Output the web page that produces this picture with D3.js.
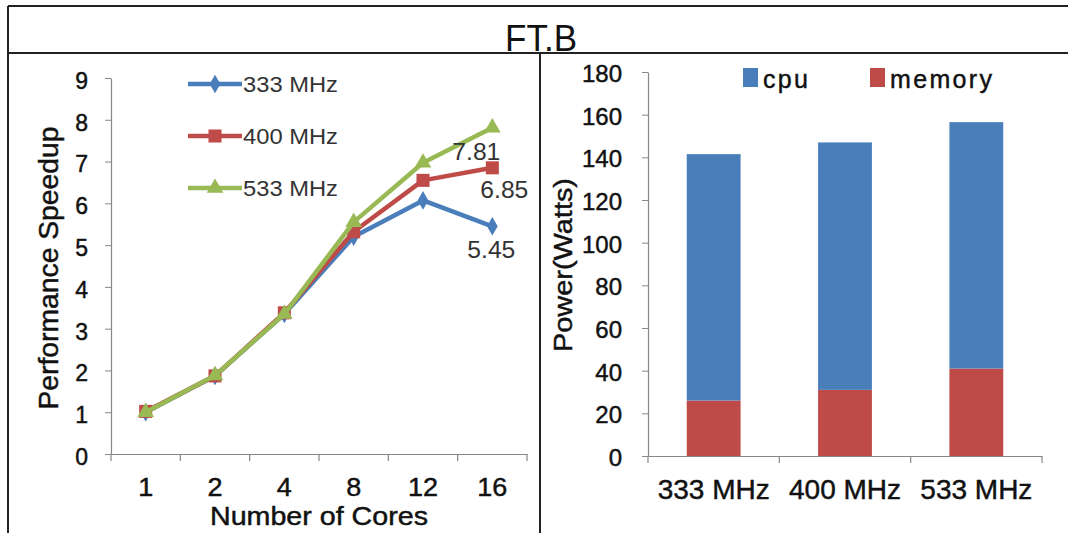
<!DOCTYPE html>
<html>
<head>
<meta charset="utf-8">
<script src="https://cdn.jsdelivr.net/npm/d3@7"></script>
<style>
  html, body { margin: 0; padding: 0; background: #fff; }
  svg { display: block; }
  text { font-family: "Liberation Sans", Arial, sans-serif; }
</style>
</head>
<body>
<svg id="chart" width="1068" height="533"></svg>
<script>
// ---- data ----
const coreLabels = ["1", "2", "4", "8", "12", "16"];
const speedup333 = [1.0, 1.87, 3.35, 5.2, 6.07, 5.45];
const speedup400 = [1.02, 1.87, 3.38, 5.32, 6.55, 6.85];
const speedup533 = [1.0, 1.88, 3.35, 5.55, 6.97, 7.81];
const seriesNames = ["333 MHz", "400 MHz", "533 MHz"];
const speedupTicks = [0, 1, 2, 3, 4, 5, 6, 7, 8, 9];

const freqLabels = ["333 MHz", "400 MHz", "533 MHz"];
const memoryPower = [26, 31, 41];
const cpuPower = [115.5, 116, 115.5];
const powerTicks = [0, 20, 40, 60, 80, 100, 120, 140, 160, 180];

const colors = { blue: "#4a7ebb", red: "#be4b48", green: "#98b954" };
const ink = "#111";

const svg = d3.select("#chart");

// slightly heavier text, like the original office export
function heavy(sel, color) {
  return sel.attr("fill", color).attr("stroke", color).attr("stroke-width", 0.45);
}

// ---- frame ----
const frame = svg.append("g").attr("stroke", "#222").attr("stroke-width", 2).attr("fill", "none");
frame.append("line").attr("x1", 8).attr("x2", 1068).attr("y1", 6).attr("y2", 6);
frame.append("line").attr("x1", 8).attr("x2", 1068).attr("y1", 53).attr("y2", 53);
frame.append("line").attr("x1", 8).attr("x2", 8).attr("y1", 6).attr("y2", 533);
frame.append("line").attr("x1", 540).attr("x2", 540).attr("y1", 53).attr("y2", 533);

svg.append("text")
  .attr("x", 541).attr("y", 51)
  .attr("text-anchor", "middle")
  .attr("font-size", 37)
  .attr("fill", ink)
  .attr("textLength", 72).attr("lengthAdjust", "spacingAndGlyphs")
  .text("FT.B");

// ---- left panel: speedup lines ----
const xL = d3.scaleBand().domain(coreLabels).range([111, 527]);
const yL = d3.scaleLinear().domain([0, 9]).range([454, 78]);

const gL = svg.append("g");

const yAxisL = gL.append("g").attr("transform", "translate(111,0)")
  .call(d3.axisLeft(yL).tickValues(speedupTicks).tickSize(6).tickSizeOuter(0));
yAxisL.select(".domain").attr("stroke", "#888").attr("stroke-width", 1.2);
yAxisL.selectAll(".tick line").attr("stroke", "#888");
heavy(yAxisL.selectAll(".tick text"), ink)
  .attr("x", -23).attr("dy", "0.45em").attr("font-size", 23)
  .attr("font-family", "Liberation Sans, Arial, sans-serif");

const xAxisL = gL.append("g").attr("transform", "translate(0,454)")
  .call(d3.axisBottom(xL).tickSize(0));
xAxisL.select(".domain").attr("stroke", "#888").attr("stroke-width", 1.2);
heavy(xAxisL.selectAll(".tick text"), ink)
  .attr("y", 42).attr("dy", 0).attr("font-size", 25)
  .attr("textLength", function() { return this.getComputedTextLength() * 1.08; })
  .attr("lengthAdjust", "spacingAndGlyphs")
  .attr("font-family", "Liberation Sans, Arial, sans-serif");
const boundsL = d3.range(coreLabels.length + 1).map(i => 111 + i * xL.step());
gL.append("g").selectAll("line").data(boundsL).join("line")
  .attr("x1", d => d).attr("x2", d => d)
  .attr("y1", 454).attr("y2", 461)
  .attr("stroke", "#888").attr("stroke-width", 1.2);

heavy(gL.append("text"), ink)
  .attr("transform", "translate(58,268) rotate(-90)")
  .attr("text-anchor", "middle")
  .attr("font-size", 27)
  .attr("textLength", 283).attr("lengthAdjust", "spacingAndGlyphs")
  .text("Performance Speedup");

heavy(gL.append("text"), ink)
  .attr("x", 319).attr("y", 525)
  .attr("text-anchor", "middle")
  .attr("font-size", 25)
  .attr("textLength", 218).attr("lengthAdjust", "spacingAndGlyphs")
  .text("Number of Cores");

const cx = (d, i) => xL(coreLabels[i]) + xL.bandwidth() / 2;
const line = d3.line().x((d, i) => cx(d, i)).y(d => yL(d));

const series = [
  { name: seriesNames[0], values: speedup333, color: colors.blue, shape: d3.symbolDiamond, size: 100 },
  { name: seriesNames[1], values: speedup400, color: colors.red, shape: d3.symbolSquare, size: 170 },
  { name: seriesNames[2], values: speedup533, color: colors.green, shape: d3.symbolTriangle, size: 120 }
];

series.forEach(s => {
  gL.append("path")
    .datum(s.values)
    .attr("d", line)
    .attr("fill", "none")
    .attr("stroke", s.color)
    .attr("stroke-width", 4.5)
    .attr("stroke-linejoin", "round");
  gL.append("g").selectAll("path").data(s.values).join("path")
    .attr("d", d3.symbol().type(s.shape).size(s.size))
    .attr("transform", (d, i) => `translate(${cx(d, i)},${yL(d)})`)
    .attr("fill", s.color);
});

// value labels at 16 cores
const last = coreLabels.length - 1;
const lblData = [
  { v: speedup533[last], dx: -16, dy: 32 },
  { v: speedup400[last], dx: 12, dy: 30 },
  { v: speedup333[last], dx: -1, dy: 32 }
];
gL.append("g").selectAll("text").data(lblData).join("text")
  .attr("x", d => cx(d, last) + d.dx)
  .attr("y", d => yL(d.v) + d.dy)
  .attr("text-anchor", "middle")
  .attr("font-size", 23).attr("fill", "#333")
  .attr("textLength", 48).attr("lengthAdjust", "spacingAndGlyphs")
  .text(d => d.v.toFixed(2));

// legend
const legL = gL.append("g");
series.forEach((s, i) => {
  const y = 84 + i * 52;
  legL.append("line").attr("x1", 188).attr("x2", 242).attr("y1", y).attr("y2", y)
    .attr("stroke", s.color).attr("stroke-width", 4.5);
  legL.append("path").attr("d", d3.symbol().type(s.shape).size(s.size))
    .attr("transform", `translate(215,${y})`).attr("fill", s.color);
  legL.append("text").attr("x", 243).attr("y", y + 8)
    .attr("font-size", 22).attr("fill", "#333")
    .attr("textLength", 95).attr("lengthAdjust", "spacingAndGlyphs")
    .text(s.name);
});

// ---- right panel: stacked power bars ----
const xR = d3.scaleBand().domain(freqLabels).range([648, 1042]).paddingInner(0.59).paddingOuter(0.295);
const yR = d3.scaleLinear().domain([0, 180]).range([456, 72]);

const gR = svg.append("g");

const yAxisR = gR.append("g").attr("transform", "translate(648,0)")
  .call(d3.axisLeft(yR).tickValues(powerTicks).tickSize(6).tickSizeOuter(0));
yAxisR.select(".domain").attr("stroke", "#888").attr("stroke-width", 1.2);
yAxisR.selectAll(".tick line").attr("stroke", "#888");
heavy(yAxisR.selectAll(".tick text"), ink)
  .attr("x", -26).attr("dy", "0.4em").attr("font-size", 24)
  .attr("font-family", "Liberation Sans, Arial, sans-serif");

const xAxisR = gR.append("g").attr("transform", "translate(0,456)")
  .call(d3.axisBottom(xR).tickSize(0));
xAxisR.select(".domain").attr("stroke", "#888").attr("stroke-width", 1.2);
heavy(xAxisR.selectAll(".tick text"), ink)
  .attr("y", 43).attr("dy", 0).attr("font-size", 28)
  .attr("font-family", "Liberation Sans, Arial, sans-serif");
const stepR = (1042 - 648) / freqLabels.length;
const boundsR = d3.range(freqLabels.length + 1).map(i => 648 + i * stepR);
gR.append("g").selectAll("line").data(boundsR).join("line")
  .attr("x1", d => d).attr("x2", d => d)
  .attr("y1", 456).attr("y2", 463)
  .attr("stroke", "#888").attr("stroke-width", 1.2);

heavy(gR.append("text"), ink)
  .attr("transform", "translate(572,265) rotate(-90)")
  .attr("text-anchor", "middle")
  .attr("font-size", 26)
  .attr("textLength", 174).attr("lengthAdjust", "spacingAndGlyphs")
  .text("Power(Watts)");

const stackData = freqLabels.map((f, i) => ({ freq: f, memory: memoryPower[i], cpu: cpuPower[i] }));
const stacked = d3.stack().keys(["memory", "cpu"])(stackData);
const barColor = { memory: colors.red, cpu: colors.blue };

gR.append("g").selectAll("g").data(stacked).join("g")
  .attr("fill", d => barColor[d.key])
  .selectAll("rect").data(d => d).join("rect")
  .attr("x", d => xR(d.data.freq))
  .attr("width", xR.bandwidth())
  .attr("y", d => yR(d[1]))
  .attr("height", d => yR(d[0]) - yR(d[1]));

// legend
const legR = gR.append("g");
[{ key: "cpu", x: 743, w: 45 }, { key: "memory", x: 870, w: 102 }].forEach(item => {
  legR.append("rect").attr("x", item.x).attr("y", 68).attr("width", 15).attr("height", 19)
    .attr("fill", barColor[item.key]);
  heavy(legR.append("text"), ink)
    .attr("x", item.x + 20).attr("y", 88)
    .attr("font-size", 25)
    .attr("textLength", item.w).attr("lengthAdjust", "spacing")
    .text(item.key);
});
</script>
</body>
</html>
